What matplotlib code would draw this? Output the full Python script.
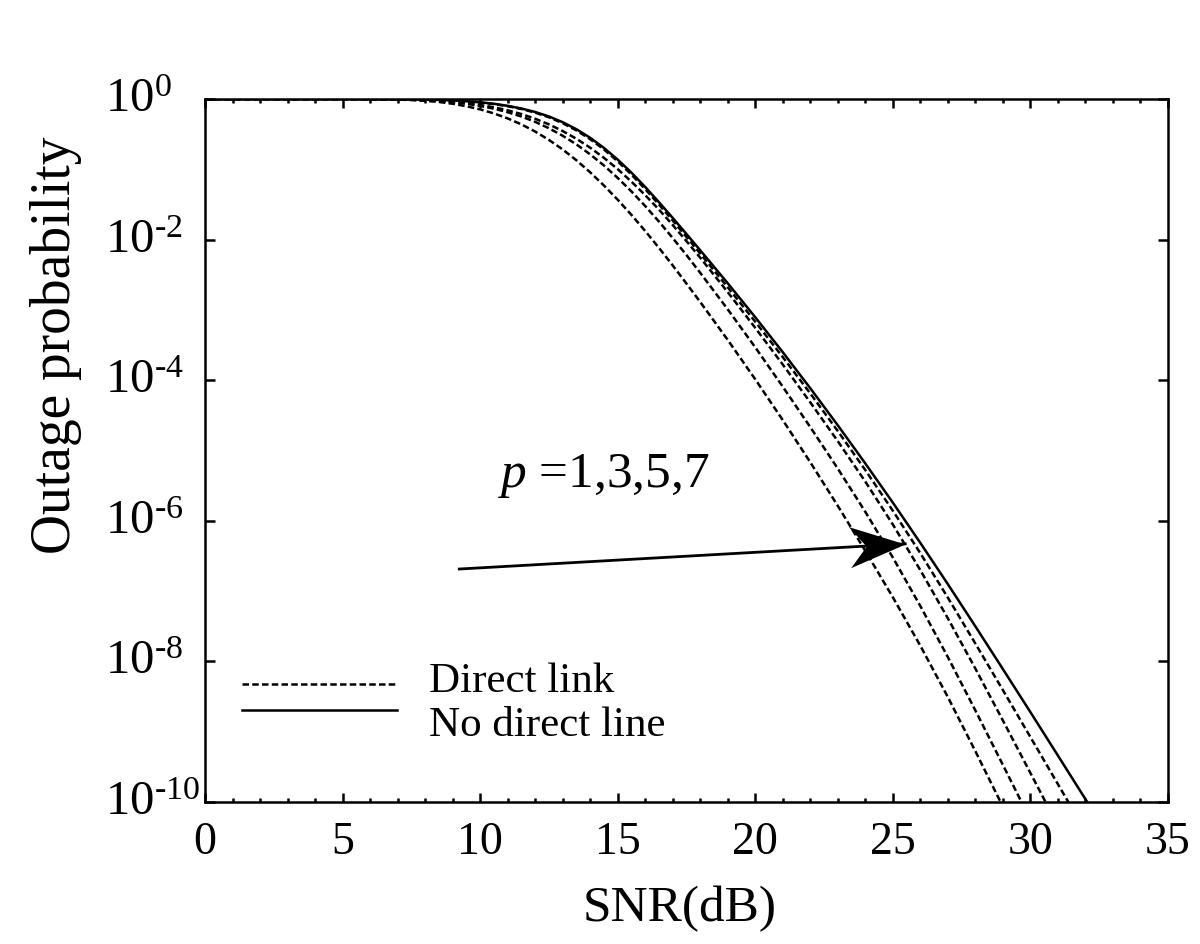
import numpy as np
import matplotlib
matplotlib.use('Agg')
import matplotlib.pyplot as plt
from matplotlib.path import Path
from matplotlib.markers import MarkerStyle
from matplotlib.transforms import Affine2D
from matplotlib.legend_handler import HandlerLine2D

## ---- data (log10 of outage probability vs SNR in dB) ----
## finer steps through the knee of the curves, 1 dB elsewhere
snr = [0, 1, 2, 3, 4, 5, 6, 7, 7.5, 8, 8.5, 9, 9.5, 10, 10.5, 11, 11.5, 12, 12.5,
       13, 13.5, 14, 14.5, 15, 15.5, 16, 16.5, 17, 17.5, 18, 19, 20, 21, 22, 23,
       24, 25, 26, 27, 28, 29, 30, 31, 32, 33]

# direct link, p = 1, 3, 5, 7 (left to right)
direct_p1 = [0, 0, 0, 0, 0, 0, 0, -0.008, -0.015, -0.026, -0.042, -0.068, -0.103, -0.148,
             -0.205, -0.276, -0.361, -0.463, -0.582, -0.718, -0.872, -1.043, -1.231, -1.433,
             -1.649, -1.878, -2.118, -2.368, -2.626, -2.888, -3.428, -3.988, -4.568, -5.168,
             -5.788, -6.428, -7.088, -7.778, -8.508, -9.278, -10.068]
direct_p3 = [0, 0, 0, 0, 0, 0, 0, -0.005, -0.010, -0.018, -0.029, -0.046, -0.068, -0.099,
             -0.138, -0.188, -0.249, -0.325, -0.416, -0.523, -0.646, -0.788, -0.946, -1.123,
             -1.315, -1.523, -1.744, -1.978, -2.221, -2.473, -2.993, -3.533, -4.093, -4.668,
             -5.258, -5.873, -6.523, -7.213, -7.940, -8.698, -9.473, -10.253]
direct_p5 = [0, 0, 0, 0, 0, 0, 0, -0.005, -0.009, -0.016, -0.025, -0.039, -0.058, -0.084,
             -0.118, -0.161, -0.214, -0.281, -0.361, -0.456, -0.566, -0.693, -0.837, -0.998,
             -1.176, -1.368, -1.574, -1.793, -2.022, -2.258, -2.748, -3.256, -3.778, -4.316,
             -4.868, -5.443, -6.053, -6.703, -7.388, -8.103, -8.841, -9.588, -10.338]
direct_p7 = [0, 0, 0, 0, 0, 0, 0, -0.002, -0.004, -0.008, -0.014, -0.022, -0.034, -0.050,
             -0.072, -0.103, -0.142, -0.194, -0.260, -0.344, -0.447, -0.572, -0.718, -0.887,
             -1.075, -1.282, -1.501, -1.729, -1.963, -2.199, -2.679, -3.169, -3.672, -4.189,
             -4.724, -5.279, -5.857, -6.462, -7.094, -7.747, -8.409, -9.077, -9.747, -10.417]
# no direct link
no_direct = [0, 0, 0, 0, 0, 0, 0, -0.002, -0.004, -0.008, -0.013, -0.021, -0.032, -0.047,
             -0.068, -0.097, -0.135, -0.185, -0.248, -0.330, -0.430, -0.552, -0.696, -0.862,
             -1.048, -1.252, -1.468, -1.692, -1.921, -2.152, -2.622, -3.105, -3.602, -4.115,
             -4.642, -5.185, -5.742, -6.315, -6.902, -7.502, -8.110, -8.722, -9.340, -9.960,
             -10.580]

xticks = [0, 5, 10, 15, 20, 25, 30, 35]
yexps = [0, -2, -4, -6, -8, -10]

# annotation: p label and arrow (SNR, probability)
p_text_pos = (10.6, 3.1e-6)
arrow_start = (9.24, 2.06e-7)
arrow_tip = (25.45, 4.7e-7)


class ShiftedLine(HandlerLine2D):
    ''' legend handler that moves the sample line up/down (points) '''
    def __init__(self, shift, **kw):
        super().__init__(**kw)
        self.shift = shift

    def create_artists(self, legend, orig_handle, xdescent, ydescent, width, height,
                       fontsize, trans):
        artists = super().create_artists(legend, orig_handle, xdescent, ydescent,
                                         width, height, fontsize, trans)
        for a in artists:
            a.set_ydata(np.asarray(a.get_ydata()) + self.shift)
        return artists


## ---- style ----
plt.rcParams['font.family'] = ['Liberation Serif', 'DejaVu Serif']
plt.rcParams['mathtext.fontset'] = 'custom'
plt.rcParams['mathtext.rm'] = 'Liberation Serif'
plt.rcParams['mathtext.it'] = 'Liberation Serif:italic'

fig = plt.figure(figsize=(12, 9.45), dpi=100)
ax = fig.add_axes([205/1200, 142/945, 963/1200, 703/945])

dash = (2.6, 1.3)
x = np.array(snr)
dashed_lines = []
for curve in [direct_p1, direct_p3, direct_p5, direct_p7]:
    ln, = ax.plot(x[:len(curve)], 10.0**np.array(curve), color='k', lw=1.8,
                  linestyle=(0, dash))
    dashed_lines.append(ln)
solid_line, = ax.plot(x[:len(no_direct)], 10.0**np.array(no_direct), color='k', lw=1.8,
                      linestyle='-')

ax.set_yscale('log')
ax.set_xlim(0, 35)
ax.set_ylim(1e-10, 1)

ax.set_xticks(xticks)
ax.set_xticks(np.arange(0, 36, 1), minor=True)
ax.set_yticks([10.0**e for e in yexps])
ax.set_yticklabels([r'$10^{\text{%d}}$' % e for e in yexps])
ax.yaxis.set_minor_locator(matplotlib.ticker.NullLocator())

ax.tick_params(axis='both', which='both', direction='in', top=True, right=True, width=1.8)
ax.tick_params(axis='x', which='major', length=6.5, pad=13, labelsize=33)
ax.tick_params(axis='x', which='minor', length=3)
ax.tick_params(axis='y', which='major', length=7, pad=72, labelsize=35)
plt.setp(ax.get_yticklabels(), ha='left', va='center')
for sp in ax.spines.values():
    sp.set_linewidth(1.8)

ax.set_xlabel('SNR(dB)', fontsize=37, labelpad=14)
ax.xaxis.set_label_coords(0.493, -0.118)
ax.set_ylabel('Outage probability', fontsize=40)
ax.yaxis.set_label_coords(-0.128, 0.651)

ax.legend([dashed_lines[0], solid_line], ['Direct link', 'No direct line'],
          handler_map={dashed_lines[0]: ShiftedLine(-6.0), solid_line: ShiftedLine(7.0)},
          loc='upper left', bbox_to_anchor=(0.038, 0.201), frameon=False, fontsize=31,
          handlelength=3.6, handletextpad=0.75, labelspacing=0.12, borderpad=0,
          borderaxespad=0)

ax.text(p_text_pos[0], p_text_pos[1], r'$p$ =1,3,5,7', fontsize=37, va='baseline')

## ---- arrow: shaft plus a notched head drawn as a rotated marker ----
ax.plot([arrow_start[0], arrow_tip[0]], [arrow_start[1], arrow_tip[1]], color='k', lw=2.0)
p0 = ax.transData.transform(arrow_start)
p1 = ax.transData.transform(arrow_tip)
angle = np.degrees(np.arctan2(p1[1] - p0[1], p1[0] - p0[0]))
head = Path([(0, 0), (-1, 0.37), (-0.7, 0), (-1, -0.37), (0, 0)],
            [Path.MOVETO, Path.LINETO, Path.LINETO, Path.LINETO, Path.CLOSEPOLY])
ax.plot([arrow_tip[0]], [arrow_tip[1]], linestyle='none', color='k',
        marker=MarkerStyle(head, transform=Affine2D().rotate_deg(angle)),
        markersize=80, markeredgewidth=0)

fig.savefig('out.png', dpi=100)
